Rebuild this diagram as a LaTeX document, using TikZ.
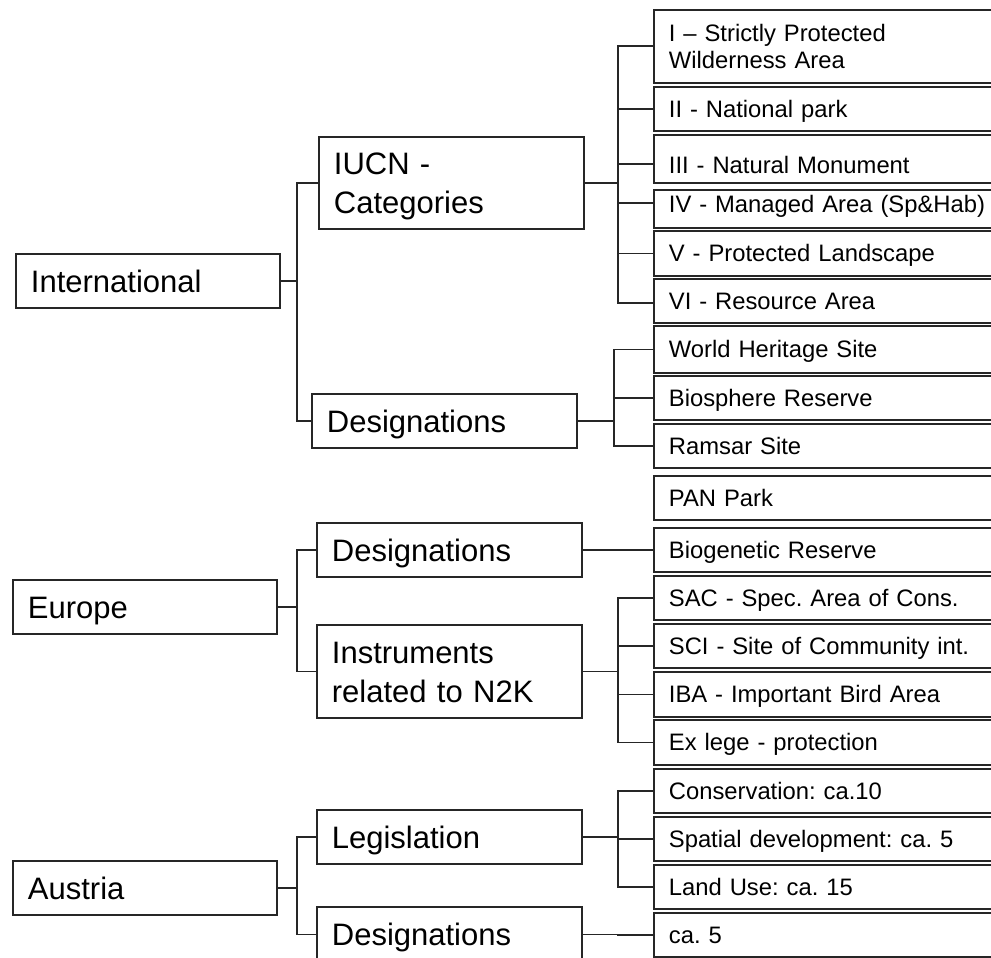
\documentclass[tikz,border=0pt]{standalone}
\usepackage{fontspec}
\setmainfont{Liberation Sans}
\usetikzlibrary{calc}
\definecolor{ln}{HTML}{262626}
\frenchspacing
\begin{document}
\frenchspacing
\begin{tikzpicture}[x=1pt,y=-1pt,
  box/.style={draw=ln, line width=1.8pt, anchor=north west, inner xsep=15pt, inner ysep=0pt, align=left, text depth=0pt},
  big/.style={box, font=\fontsize{31}{39}\selectfont\frenchspacing, text height=22.2pt},
  lone/.style={big, text width=234pt, minimum height=54pt},
  ltwo/.style={big, text width=235pt, minimum height=54pt},
  small/.style={box, font=\fontsize{23.8}{27}\selectfont\frenchspacing, text height=17pt, text width=320pt, minimum height=44pt},
  conn/.style={draw=ln, line width=1.8pt}]
\useasboundingbox (0,0) rectangle (991,958);
\clip (0,0) rectangle (991,958);
\fill[white] (0,0) rectangle (991,958);

% level 1
\node[lone] (intl) at (15,253) {International};
\node[lone] (eur) at (12,579) {Europe};
\node[lone] (aut) at (12,860) {Austria};

% level 2
\node[ltwo, minimum height=92pt, text depth=39pt] (iucn) at (318,136) {IUCN -\\Categories};
\node[ltwo] (idesig) at (311,393) {Designations};
\node[ltwo] (edesig) at (316,522) {Designations};
\node[ltwo, minimum height=93pt, text depth=39pt] (instr) at (316,624) {Instruments\\related to N2K};
\node[ltwo] (legis) at (316,809) {Legislation};
\node[ltwo, minimum height=55pt] (adesig) at (316,906) {Designations};

% level 3
\node[small, minimum height=73pt, text depth=27pt] (c1) at (653,9) {I – Strictly Protected\\Wilderness Area};
\node[small] (c2) at (653,86) {II - National park};
\node[small, minimum height=48pt, text height=30pt] (c3) at (653,134) {III - Natural Monument};
\node[small, minimum height=38pt, text depth=9pt] (c4) at (653,189) {IV - Managed Area (Sp\&Hab)};
\node[small, minimum height=45pt] (c5) at (653,230) {V - Protected Landscape};
\node[small] (c6) at (653,278) {VI - Resource Area};
\node[small, minimum height=47pt] (w1) at (653,325) {World Heritage Site};
\node[small] (w2) at (653,375) {Biosphere Reserve};
\node[small] (w3) at (653,423) {Ramsar Site};
\node[small] (pan) at (653,475) {PAN Park};
\node[small] (bgr) at (653,527) {Biogenetic Reserve};
\node[small] (sac) at (653,575) {SAC - Spec. Area of Cons.};
\node[small] (sci) at (653,623) {SCI - Site of Community int.};
\node[small, minimum height=45pt] (iba) at (653,671) {IBA - Important Bird Area};
\node[small, minimum height=45pt] (exl) at (653,719) {Ex lege - protection};
\node[small] (con) at (653,768) {Conservation: ca.10};
\node[small] (spa) at (653,816) {Spatial development: ca. 5};
\node[small] (lan) at (653,864) {Land Use: ca. 15};
\node[small] (ca5) at (653,912) {ca. 5};

% trunks
\coordinate (t1) at (297,0);
\coordinate (t2) at (618,0);
\coordinate (t2b) at (614,0);

% level 1 -> 2
\draw[conn] (intl.east) -- (intl.east -| t1);
\draw[conn] (iucn.west) -| (idesig.west -| t1) -- (idesig.west);
\draw[conn] (eur.east) -- (eur.east -| t1);
\draw[conn] (edesig.west) -| (instr.west -| t1) -- (instr.west);
\draw[conn] (aut.east) -- (aut.east -| t1);
\draw[conn] (legis.west) -| (adesig.west -| t1) -- (adesig.west);

% IUCN -> categories
\draw[conn] (iucn.east) -- (iucn.east -| t2);
\draw[conn] (c1.west) -| ([yshift=-2pt]c6.west -| t2) -- ([yshift=-2pt]c6.west);
\draw[conn] (c2.west) -- (c2.west -| t2);
\draw[conn] ([yshift=-5pt]c3.west) -- ([yshift=-5pt]c3.west -| t2);
\draw[conn] ([yshift=6pt]c4.west) -- ([yshift=6pt]c4.west -| t2);
\draw[conn] (c5.west) -- (c5.west -| t2);

% International designations
\draw[conn] (idesig.east) -- (idesig.east -| t2b);
\draw[conn] (w1.west) -| (w3.west -| t2b) -- (w3.west);
\draw[conn] (w2.west) -- (w2.west -| t2b);

% Europe
\draw[conn] (edesig.east) -- (bgr.west);
\draw[conn] (instr.east) -- (instr.east -| t2);
\draw[conn] (sac.west) -| (exl.west -| t2) -- (exl.west);
\draw[conn] (sci.west) -- (sci.west -| t2);
\draw[conn] (iba.west) -- (iba.west -| t2);

% Austria
\draw[conn] (legis.east) -- (legis.east -| t2);
\draw[conn] (con.west) -| (lan.west -| t2) -- (lan.west);
\draw[conn] (spa.west) -- (spa.west -| t2);
\draw[conn] (adesig.east) -- (adesig.east -| t2) |- (ca5.west);
\end{tikzpicture}
\end{document}
